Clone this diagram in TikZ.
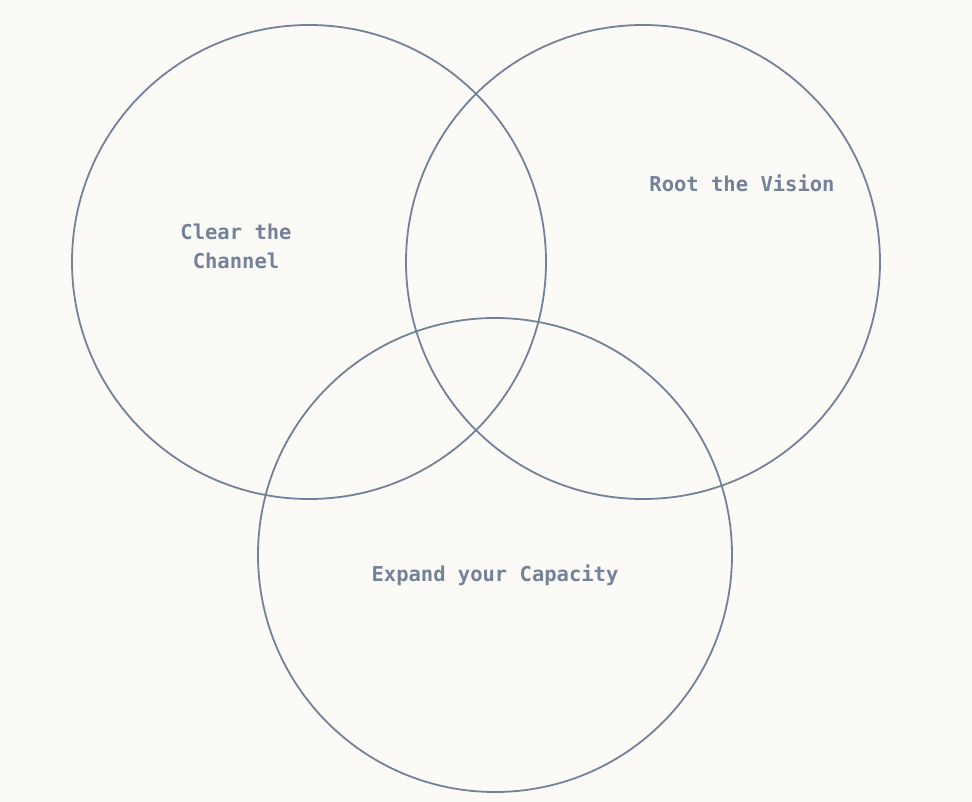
\documentclass[tikz,border=0pt]{standalone}
\usepackage{fontspec}
\setmonofont{DejaVu Sans Mono}
\definecolor{bg}{HTML}{FBFAF7}
\definecolor{ln}{HTML}{748299}
\begin{document}
\begin{tikzpicture}[x=1pt,y=-1pt,
  ring/.style={draw=ln,line width=1.8pt},
  lbl/.style={text=ln,font=\ttfamily\bfseries\fontsize{20.5}{29}\selectfont,align=center}]
\fill[bg] (0,0) rectangle (972,802);
\useasboundingbox (0,0) rectangle (972,802);
\draw[ring] (309,262) circle[radius=237];
\draw[ring] (643,262) circle[radius=237];
\draw[ring] (495,555) circle[radius=237];
\node[lbl] (a) at (236,246) {Clear the\\Channel};
\node[lbl] (b) at (742,183) {Root the Vision};
\node[lbl] (c) at (495,575) {Expand your Capacity};
\end{tikzpicture}
\end{document}
